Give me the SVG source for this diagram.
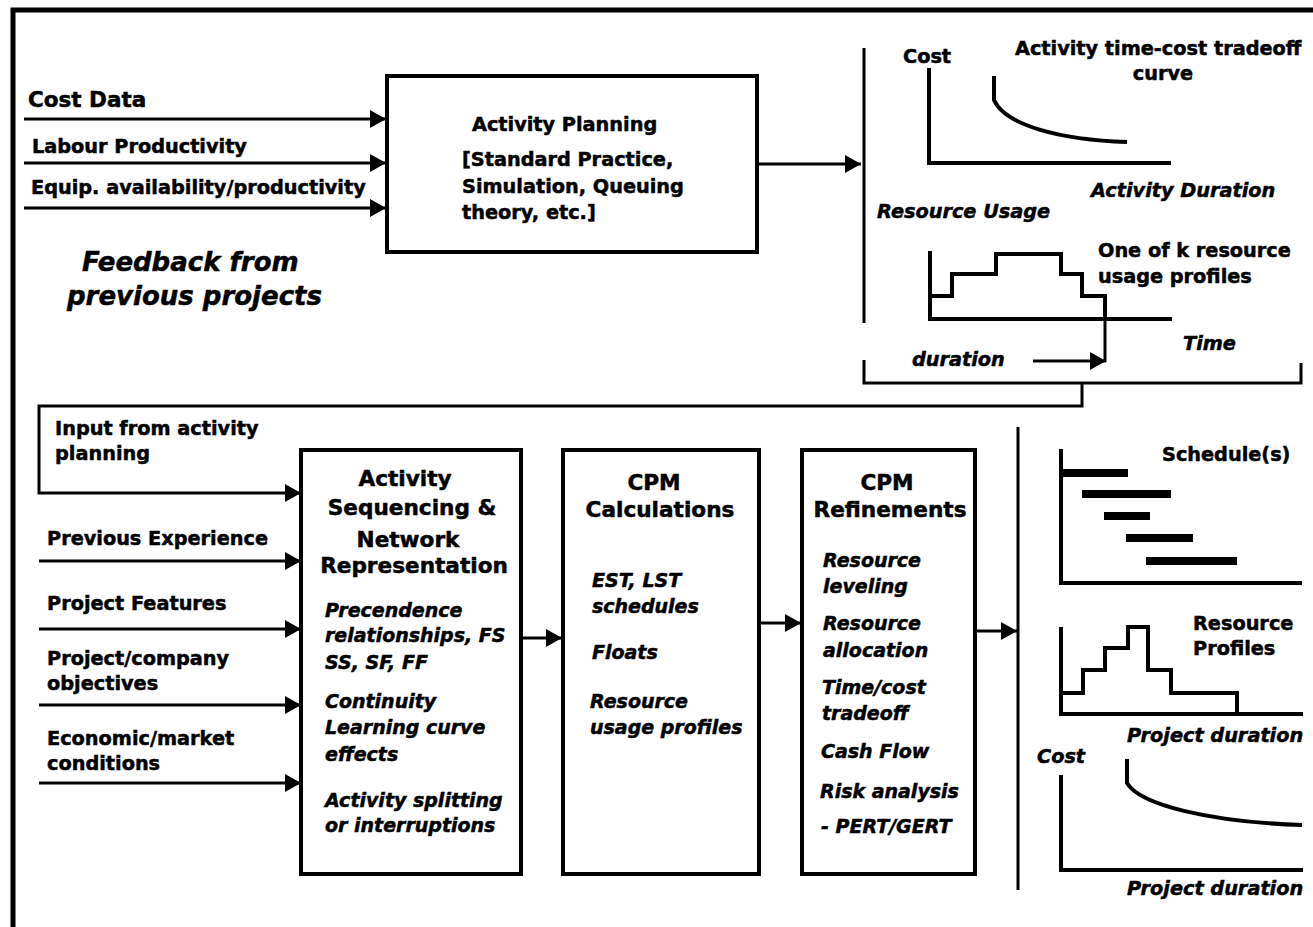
<svg xmlns="http://www.w3.org/2000/svg" width="1313" height="927" viewBox="0 0 1313 927">
  <style>
    text { font-family: "DejaVu Sans", Verdana, sans-serif; font-weight: bold; fill: #000; stroke: #000; stroke-width: 0.5px; font-size: 19.3px; }
    .it { font-style: italic; }
    .big { font-size: 21.6px; }
    .fb { font-size: 26px; font-style: italic; }
    .mid { text-anchor: middle; }
    .box { fill: #fff; stroke: #000; stroke-width: 4; }
    .ln { fill: none; stroke: #000; stroke-width: 3; }
    .ax { fill: none; stroke: #000; stroke-width: 4; }
    .thin { fill: none; stroke: #000; stroke-width: 3; }
    .arr { marker-end: url(#ah); }
    .bar { fill: #000; }
  </style>
  <defs>
    <marker id="ah" markerUnits="userSpaceOnUse" markerWidth="16" markerHeight="18" refX="16" refY="9" orient="auto">
      <path d="M0,0 L16,9 L0,18 Z" fill="#000"/>
    </marker>
  </defs>

  <rect x="0" y="0" width="1313" height="927" fill="#fff"/>
  <!-- outer frame, running off the right and bottom edges -->
  <path d="M13,940 L13,10 L1320,10" fill="none" stroke="#000" stroke-width="5"/>

  <!-- connectors -->
  <g id="connectors">
    <line class="ln arr" x1="24" y1="119" x2="386" y2="119"/>
    <line class="ln arr" x1="24" y1="163" x2="386" y2="163"/>
    <line class="ln arr" x1="24" y1="208" x2="386" y2="208"/>
    <line class="ln arr" x1="757" y1="164" x2="861" y2="164"/>
    <!-- feedback of activity planning output into sequencing -->
    <path class="ln" d="M864,360 L864,383 L1301,383 L1301,363"/>
    <path class="ln arr" d="M1082,383 L1082,406 L39,406 L39,493 L301,493"/>
    <line class="ln arr" x1="39" y1="561" x2="301" y2="561"/>
    <line class="ln arr" x1="39" y1="629" x2="301" y2="629"/>
    <line class="ln arr" x1="39" y1="705" x2="301" y2="705"/>
    <line class="ln arr" x1="39" y1="783" x2="301" y2="783"/>
    <line class="ln arr" x1="521" y1="638" x2="562" y2="638"/>
    <line class="ln arr" x1="759" y1="623" x2="801" y2="623"/>
    <line class="ln arr" x1="975" y1="631" x2="1017" y2="631"/>
  </g>

  <!-- input labels -->
  <g id="inputs-top">
    <text x="28" y="107" style="font-size:21.5px">Cost Data</text>
    <text x="32" y="153">Labour Productivity</text>
    <text x="31" y="194">Equip. availability/productivity</text>
    <text class="fb" x="82" y="271">Feedback from</text>
    <text class="fb" x="67" y="305">previous projects</text>
  </g>

  <g id="activity-planning">
    <rect class="box" x="387" y="76" width="370" height="176"/>
    <text x="472" y="131">Activity Planning</text>
    <text x="462" y="166">[Standard Practice,</text>
    <text x="462" y="193">Simulation, Queuing</text>
    <text x="462" y="219">theory, etc.]</text>
  </g>

  <!-- activity-level outputs -->
  <g id="activity-outputs">
    <line class="thin" x1="864" y1="48" x2="864" y2="323"/>
    <text x="903" y="63">Cost</text>
    <text x="1015" y="55">Activity time-cost tradeoff</text>
    <text class="mid" x="1163" y="80">curve</text>
    <path class="ax" d="M929,68 L929,163 L1171,163"/>
    <path class="ax" d="M994,76 L994,100 C1005,125 1060,140 1127,142"/>
    <text class="it" x="1091" y="197">Activity Duration</text>
    <text class="it" x="877" y="218">Resource Usage</text>
    <text x="1098" y="257">One of k resource</text>
    <text x="1098" y="283">usage profiles</text>
    <path class="ax" d="M930,251 L930,319 L1172,319"/>
    <path class="ax" d="M930,296 L952,296 L952,274 L996,274 L996,254 L1061,254 L1061,274 L1082,274 L1082,296 L1105,296 L1105,319"/>
    <line class="thin" x1="1105" y1="319" x2="1105" y2="362"/>
    <line class="thin arr" x1="1033" y1="361" x2="1106" y2="361"/>
    <text class="it" x="1183" y="350">Time</text>
    <text class="it" x="912" y="366">duration</text>
  </g>

  <g id="inputs-bottom">
    <text x="55" y="435">Input from activity</text>
    <text x="55" y="460">planning</text>
    <text x="47" y="545">Previous Experience</text>
    <text x="47" y="610">Project Features</text>
    <text x="47" y="665">Project/company</text>
    <text x="47" y="690">objectives</text>
    <text x="47" y="745">Economic/market</text>
    <text x="47" y="770">conditions</text>
  </g>

  <g id="sequencing">
    <rect class="box" x="301" y="450" width="220" height="424"/>
    <text class="big mid" x="405" y="486">Activity</text>
    <text class="big mid" x="412" y="515">Sequencing &amp;</text>
    <text class="big mid" x="408" y="547">Network</text>
    <text class="big mid" x="414" y="573">Representation</text>
    <text class="it" x="325" y="617" style="font-size:19px">Precendence</text>
    <text class="it" x="325" y="642" style="font-size:19px">relationships, FS</text>
    <text class="it" x="325" y="669" style="font-size:19px">SS, SF, FF</text>
    <text class="it" x="325" y="708" style="font-size:19px">Continuity</text>
    <text class="it" x="325" y="734" style="font-size:19px">Learning curve</text>
    <text class="it" x="325" y="761" style="font-size:19px">effects</text>
    <text class="it" x="325" y="807" style="font-size:19px">Activity splitting</text>
    <text class="it" x="325" y="832" style="font-size:19px">or interruptions</text>
  </g>

  <g id="cpm-calculations">
    <rect class="box" x="563" y="450" width="196" height="424"/>
    <text class="big mid" x="654" y="490">CPM</text>
    <text class="big mid" x="660" y="517">Calculations</text>
    <text class="it" x="592" y="587" style="font-size:19px">EST, LST</text>
    <text class="it" x="592" y="613" style="font-size:19px">schedules</text>
    <text class="it" x="592" y="659" style="font-size:19px">Floats</text>
    <text class="it" x="590" y="708" style="font-size:19px">Resource</text>
    <text class="it" x="590" y="734" style="font-size:19px">usage profiles</text>
  </g>

  <g id="cpm-refinements">
    <rect class="box" x="802" y="450" width="173" height="424"/>
    <text class="big mid" x="887" y="490">CPM</text>
    <text class="big mid" x="890" y="517">Refinements</text>
    <text class="it" x="823" y="567" style="font-size:19px">Resource</text>
    <text class="it" x="823" y="593" style="font-size:19px">leveling</text>
    <text class="it" x="823" y="630" style="font-size:19px">Resource</text>
    <text class="it" x="823" y="657" style="font-size:19px">allocation</text>
    <text class="it" x="822" y="694" style="font-size:19px">Time/cost</text>
    <text class="it" x="822" y="720" style="font-size:19px">tradeoff</text>
    <text class="it" x="821" y="758" style="font-size:19px">Cash Flow</text>
    <text class="it" x="820" y="798" style="font-size:19px">Risk analysis</text>
    <text class="it" x="821" y="833" style="font-size:19px">- PERT/GERT</text>
  </g>

  <!-- project-level outputs -->
  <g id="project-outputs">
    <line class="thin" x1="1018" y1="427" x2="1018" y2="890"/>
    <text x="1162" y="461">Schedule(s)</text>
    <path class="ax" d="M1061,449 L1061,583 L1302,583"/>
    <rect class="bar" x="1061" y="469" width="67" height="8"/>
    <rect class="bar" x="1082" y="490" width="89" height="8"/>
    <rect class="bar" x="1104" y="512" width="46" height="8"/>
    <rect class="bar" x="1126" y="534" width="67" height="8"/>
    <rect class="bar" x="1146" y="557" width="91" height="8"/>

    <text x="1193" y="630">Resource</text>
    <text x="1193" y="655">Profiles</text>
    <path class="ax" d="M1061,627 L1061,714 L1303,714"/>
    <path class="ax" d="M1061,693 L1083,693 L1083,670 L1105,670 L1105,648 L1128,648 L1128,627 L1148,627 L1148,670 L1171,670 L1171,693 L1237,693 L1237,714"/>
    <text class="it" x="1127" y="742">Project duration</text>

    <text class="it" x="1037" y="763">Cost</text>
    <path class="ax" d="M1061,775 L1061,870 L1303,870"/>
    <path class="ax" d="M1127,759 L1127,783 C1140,805 1210,822 1302,825"/>
    <text class="it" x="1127" y="895">Project duration</text>
  </g>
</svg>
